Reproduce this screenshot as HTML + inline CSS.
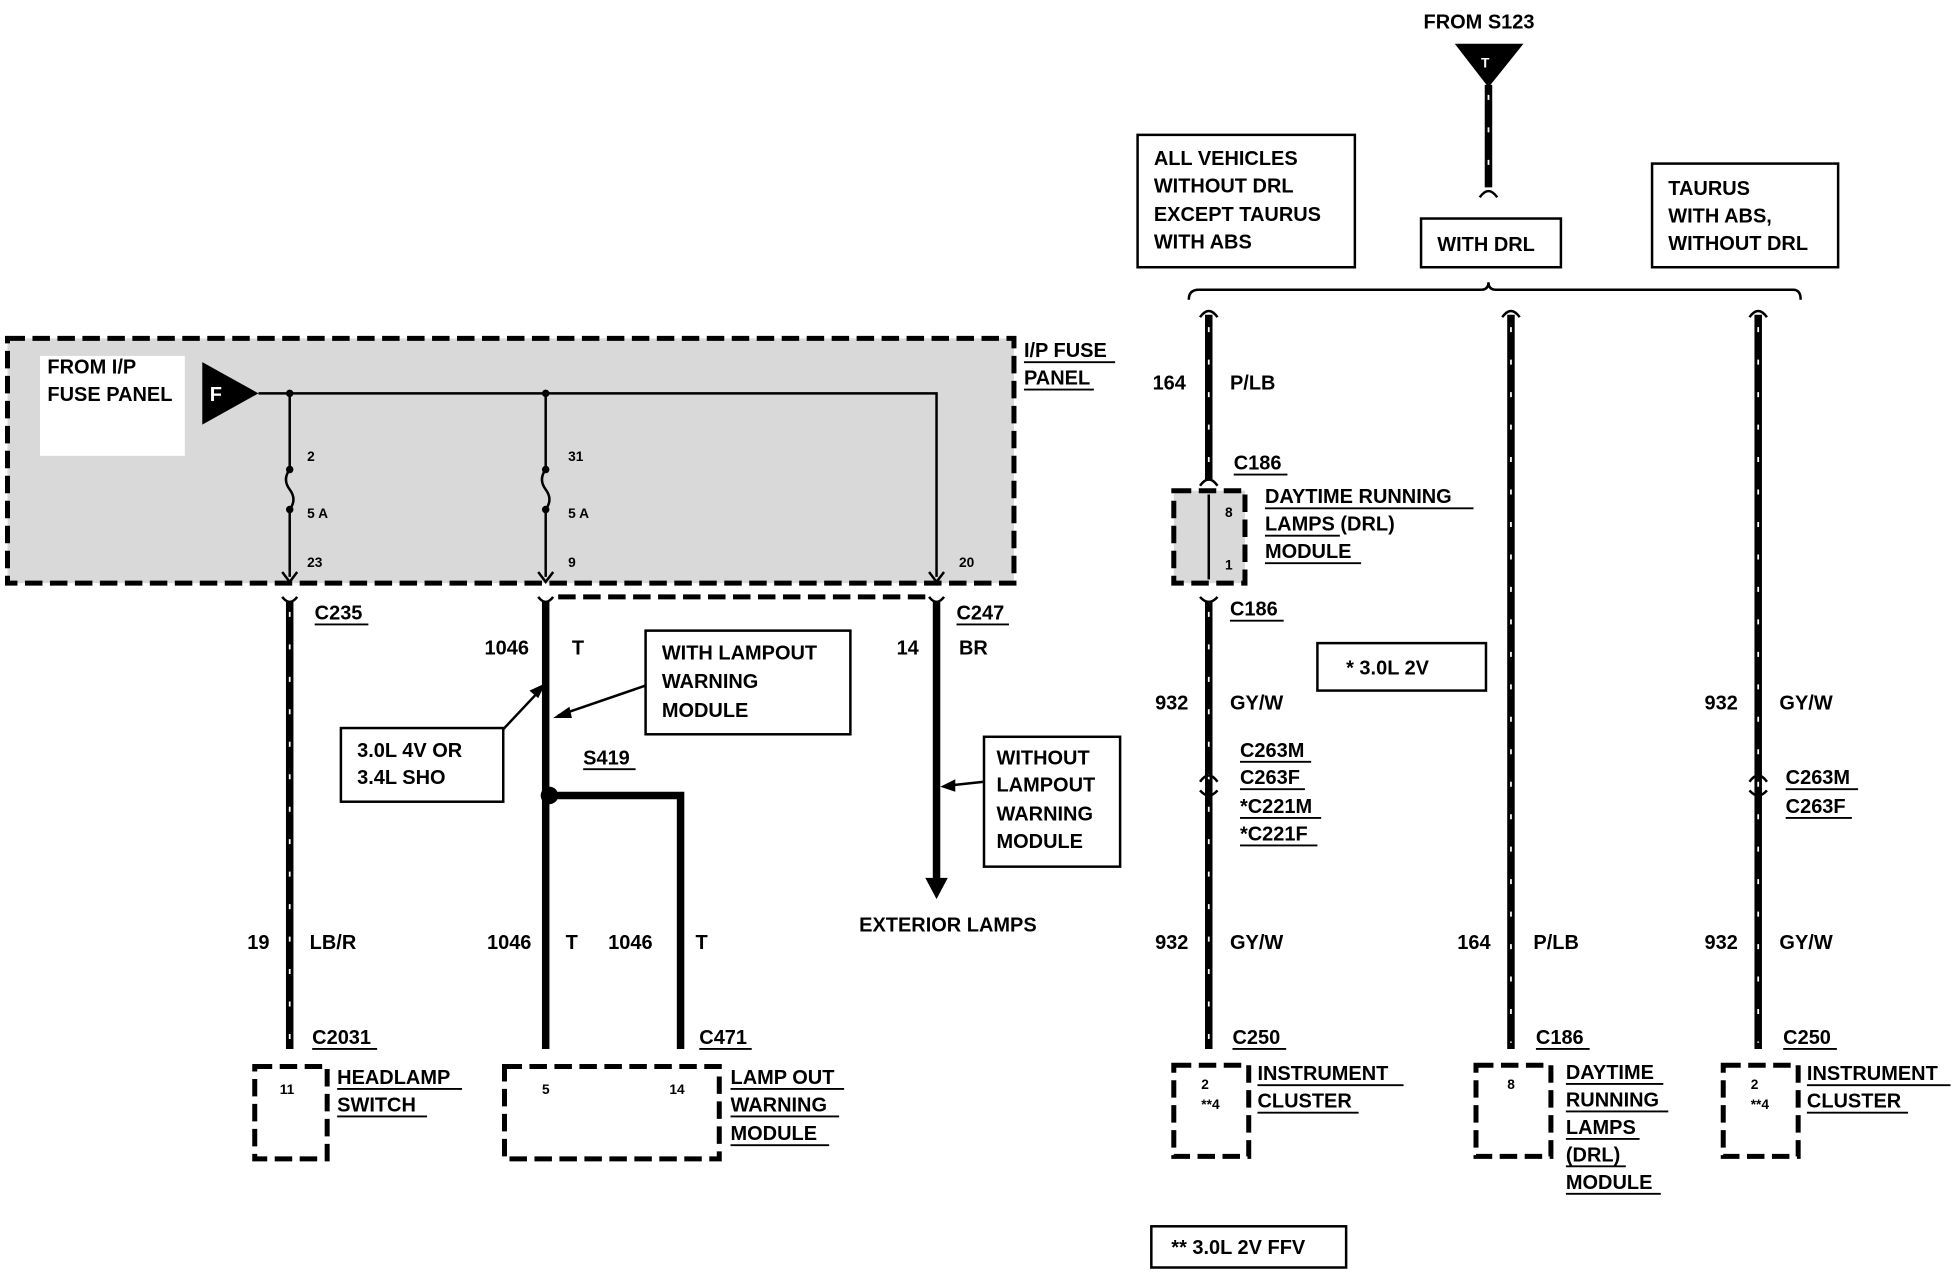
<!DOCTYPE html>
<html><head><meta charset="utf-8"><style>
html,body{margin:0;padding:0;background:#fff;}
svg{display:block;}
text{font-family:"Liberation Sans",Arial,sans-serif;font-weight:bold;font-size:16px;fill:#000;}
.s{font-size:11px;}
.w{stroke:#000;stroke-width:6;fill:none;}
.h{stroke:#fff;stroke-width:1.4;stroke-dasharray:4 22;fill:none;}
.t{stroke:#000;stroke-width:2;fill:none;}
.d{stroke:#000;stroke-width:4;fill:none;stroke-dasharray:14 6;}
.b{stroke:#000;stroke-width:2;fill:#fff;}
.u{stroke:#000;stroke-width:1.5;}
</style></head><body>
<svg width="1958" height="1280" viewBox="0 0 1568 1025" preserveAspectRatio="none" xmlns="http://www.w3.org/2000/svg">
<rect x="6" y="271" width="806" height="196" class="d" style="fill:#d9d9d9"/>
<rect x="32" y="285" width="116" height="80" fill="#fff"/>
<text x="38" y="299">FROM I/P</text>
<text x="38" y="321">FUSE PANEL</text>
<polygon points="162,290 162,340 207,315" fill="#000"/>
<text x="168" y="321" style="fill:#fff">F</text>
<path class="t" d="M207,315 H750 V462"/>
<circle cx="232" cy="315" r="3"/><circle cx="437" cy="315" r="3"/>
<path class="t" d="M232,315 V376 q-6,8 0,16 q6,8 0,16 V462"/>
<path class="t" d="M437,315 V376 q-6,8 0,16 q6,8 0,16 V462"/>
<circle cx="232" cy="376" r="3"/><circle cx="232" cy="408" r="3"/>
<circle cx="437" cy="376" r="3"/><circle cx="437" cy="408" r="3"/>
<text class="s" x="246" y="369">2</text><text class="s" x="246" y="415">5 A</text><text class="s" x="246" y="454">23</text>
<text class="s" x="455" y="369">31</text><text class="s" x="455" y="415">5 A</text><text class="s" x="455" y="454">9</text>
<text class="s" x="768" y="454">20</text>
<path class="t" d="M226,458 L232,466 L238,458 M431,458 L437,466 L443,458 M744,458 L750,466 L756,458" stroke-width="3"/>
<text x="820" y="286">I/P FUSE</text><line class="u" x1="820" y1="290" x2="893" y2="290"/>
<text x="820" y="308">PANEL</text><line class="u" x1="820" y1="312" x2="876" y2="312"/>
<path class="t" stroke-width="3" d="M226,478 q6,8 12,0 M431,478 q6,8 12,0 M744,478 q6,8 12,0"/>
<line class="w" x1="232" y1="482" x2="232" y2="840"/><line class="h" x1="232" y1="490" x2="232" y2="835"/>
<text x="252" y="496">C235</text><line class="u" x1="252" y1="500" x2="295" y2="500"/>
<text x="198" y="760">19</text><text x="248" y="760">LB/R</text>
<text x="250" y="836">C2031</text><line class="u" x1="250" y1="840" x2="302" y2="840"/>
<rect x="204" y="854" width="58" height="74" class="d" style="fill:#fff"/>
<text class="s" x="224" y="876">11</text>
<text x="270" y="868">HEADLAMP</text><line class="u" x1="270" y1="872" x2="370" y2="872"/>
<text x="270" y="890">SWITCH</text><line class="u" x1="270" y1="894" x2="342" y2="894"/>
<line class="w" x1="437" y1="482" x2="437" y2="840"/>
<path class="d" d="M447,478 H745" stroke-width="3"/>
<text x="388" y="524">1046</text><text x="458" y="524">T</text>
<text x="467" y="612">S419</text><line class="u" x1="467" y1="616" x2="509" y2="616"/>
<circle cx="440" cy="637" r="7"/>
<path class="w" d="M440,637 H545 V840"/>
<text x="390" y="760">1046</text><text x="453" y="760">T</text>
<text x="487" y="760">1046</text><text x="557" y="760">T</text>
<text x="560" y="836">C471</text><line class="u" x1="560" y1="840" x2="602" y2="840"/>
<rect x="404" y="854" width="172" height="74" class="d" style="fill:#fff"/>
<text class="s" x="434" y="876">5</text><text class="s" x="536" y="876">14</text>
<text x="585" y="868">LAMP OUT</text><line class="u" x1="585" y1="872" x2="676" y2="872"/>
<text x="585" y="890">WARNING</text><line class="u" x1="585" y1="894" x2="672" y2="894"/>
<text x="585" y="913">MODULE</text><line class="u" x1="585" y1="917" x2="664" y2="917"/>
<rect class="b" x="517" y="505" width="164" height="83"/>
<text x="530" y="528">WITH LAMPOUT</text><text x="530" y="551">WARNING</text><text x="530" y="574">MODULE</text>
<path class="t" d="M517,549 L447,573"/><polygon points="443,575 456,566 458,575"/>
<rect class="b" x="273" y="583" width="130" height="59"/>
<text x="286" y="606">3.0L 4V OR</text><text x="286" y="628">3.4L SHO</text>
<path class="t" d="M403,584 L434,551"/><polygon points="437,547 424,553 431,559"/>
<line class="w" x1="750" y1="482" x2="750" y2="705"/>
<polygon points="741,703 759,703 750,720"/>
<text x="766" y="496">C247</text><line class="u" x1="766" y1="500" x2="808" y2="500"/>
<text x="718" y="524">14</text><text x="768" y="524">BR</text>
<rect class="b" x="788" y="590" width="109" height="104"/>
<text x="798" y="612">WITHOUT</text><text x="798" y="634">LAMPOUT</text><text x="798" y="657">WARNING</text><text x="798" y="679">MODULE</text>
<path class="t" d="M788,626 L760,629"/><polygon points="753,630 765,624 765,634"/>
<text x="688" y="746">EXTERIOR LAMPS</text>
<text x="1140" y="23">FROM S123</text>
<polygon points="1165,35 1220,35 1192,70" fill="#000"/>
<text x="1186" y="54" class="s" style="fill:#fff">T</text>
<line class="w" x1="1192" y1="68" x2="1192" y2="150"/><line class="h" x1="1192" y1="76" x2="1192" y2="148"/>
<path class="t" stroke-width="3" d="M1185,158 q7,-10 14,0"/>
<rect class="b" x="911" y="108" width="174" height="106"/>
<text x="924" y="132">ALL VEHICLES</text><text x="924" y="154">WITHOUT DRL</text><text x="924" y="177">EXCEPT TAURUS</text><text x="924" y="199">WITH ABS</text>
<rect class="b" x="1138" y="175" width="112" height="39"/>
<text x="1151" y="201">WITH DRL</text>
<rect class="b" x="1323" y="131" width="149" height="83"/>
<text x="1336" y="156">TAURUS</text><text x="1336" y="178">WITH ABS,</text><text x="1336" y="200">WITHOUT DRL</text>
<path class="t" stroke-width="3" d="M952,240 q0,-8 8,-8 H1186 q6,0 6,-6 q0,6 6,6 H1436 q6,0 6,8"/>
<path class="t" stroke-width="3" d="M961,254 q7,-10 14,0 M1203,254 q7,-10 14,0 M1401,254 q7,-10 14,0"/>
<line class="w" x1="968" y1="252" x2="968" y2="385"/><line class="h" x1="968" y1="262" x2="968" y2="380"/>
<path class="t" stroke-width="3" d="M961,389 q7,-10 14,0"/>
<text x="923" y="312">164</text><text x="985" y="312">P/LB</text>
<text x="988" y="376">C186</text><line class="u" x1="988" y1="380" x2="1031" y2="380"/>
<rect x="940" y="393" width="57" height="74" class="d" style="fill:#d9d9d9"/>
<line class="t" x1="968" y1="396" x2="968" y2="464"/>
<text class="s" x="981" y="414">8</text><text class="s" x="981" y="456">1</text>
<text x="1013" y="403">DAYTIME RUNNING</text><line class="u" x1="1013" y1="407" x2="1180" y2="407"/>
<text x="1013" y="425">LAMPS (DRL)</text><line class="u" x1="1013" y1="429" x2="1073" y2="429"/>
<text x="1013" y="447">MODULE</text><line class="u" x1="1013" y1="451" x2="1090" y2="451"/>
<path class="t" stroke-width="3" d="M961,478 q7,8 14,0"/>
<line class="w" x1="968" y1="482" x2="968" y2="840"/><line class="h" x1="968" y1="490" x2="968" y2="835"/>
<text x="985" y="493">C186</text><line class="u" x1="985" y1="497" x2="1028" y2="497"/>
<rect class="b" x="1055" y="515" width="135" height="38"/>
<text x="1078" y="540">*  3.0L 2V</text>
<text x="925" y="568">932</text><text x="985" y="568">GY/W</text>
<text x="993" y="606">C263M</text><line class="u" x1="993" y1="610" x2="1050" y2="610"/>
<text x="993" y="628">C263F</text><line class="u" x1="993" y1="632" x2="1045" y2="632"/>
<text x="993" y="651">*C221M</text><line class="u" x1="993" y1="655" x2="1058" y2="655"/>
<text x="993" y="673">*C221F</text><line class="u" x1="993" y1="677" x2="1055" y2="677"/>
<path class="t" stroke-width="3" d="M961,626 q7,-10 14,0 M961,633 q7,8 14,0"/>
<text x="925" y="760">932</text><text x="985" y="760">GY/W</text>
<text x="987" y="836">C250</text><line class="u" x1="987" y1="840" x2="1030" y2="840"/>
<rect x="940" y="853" width="60" height="73" class="d" fill="#fff"/>
<text class="s" x="962" y="872">2</text><text class="s" x="962" y="888">**4</text>
<text x="1007" y="865">INSTRUMENT</text><line class="u" x1="1007" y1="869" x2="1124" y2="869"/>
<text x="1007" y="887">CLUSTER</text><line class="u" x1="1007" y1="891" x2="1088" y2="891"/>
<line class="w" x1="1210" y1="252" x2="1210" y2="840"/><line class="h" x1="1210" y1="262" x2="1210" y2="835"/>
<text x="1167" y="760">164</text><text x="1228" y="760">P/LB</text>
<text x="1230" y="836">C186</text><line class="u" x1="1230" y1="840" x2="1273" y2="840"/>
<rect x="1182" y="853" width="60" height="73" class="d" fill="#fff"/>
<text class="s" x="1207" y="872">8</text>
<text x="1254" y="864">DAYTIME</text><line class="u" x1="1254" y1="868" x2="1332" y2="868"/>
<text x="1254" y="886">RUNNING</text><line class="u" x1="1254" y1="890" x2="1336" y2="890"/>
<text x="1254" y="908">LAMPS</text><line class="u" x1="1254" y1="912" x2="1313" y2="912"/>
<text x="1254" y="930">(DRL)</text><line class="u" x1="1254" y1="934" x2="1302" y2="934"/>
<text x="1254" y="952">MODULE</text><line class="u" x1="1254" y1="956" x2="1330" y2="956"/>
<line class="w" x1="1408" y1="252" x2="1408" y2="840"/><line class="h" x1="1408" y1="262" x2="1408" y2="835"/>
<path class="t" stroke-width="3" d="M1401,626 q7,-10 14,0 M1401,633 q7,8 14,0"/>
<text x="1365" y="568">932</text><text x="1425" y="568">GY/W</text>
<text x="1430" y="628">C263M</text><line class="u" x1="1430" y1="632" x2="1488" y2="632"/>
<text x="1430" y="651">C263F</text><line class="u" x1="1430" y1="655" x2="1483" y2="655"/>
<text x="1365" y="760">932</text><text x="1425" y="760">GY/W</text>
<text x="1428" y="836">C250</text><line class="u" x1="1428" y1="840" x2="1471" y2="840"/>
<rect x="1380" y="853" width="60" height="73" class="d" fill="#fff"/>
<text class="s" x="1402" y="872">2</text><text class="s" x="1402" y="888">**4</text>
<text x="1447" y="865">INSTRUMENT</text><line class="u" x1="1447" y1="869" x2="1562" y2="869"/>
<text x="1447" y="887">CLUSTER</text><line class="u" x1="1447" y1="891" x2="1528" y2="891"/>
<rect class="b" x="922" y="982" width="156" height="33"/>
<text x="938" y="1004">**  3.0L 2V FFV</text>
</svg>
</body></html>
